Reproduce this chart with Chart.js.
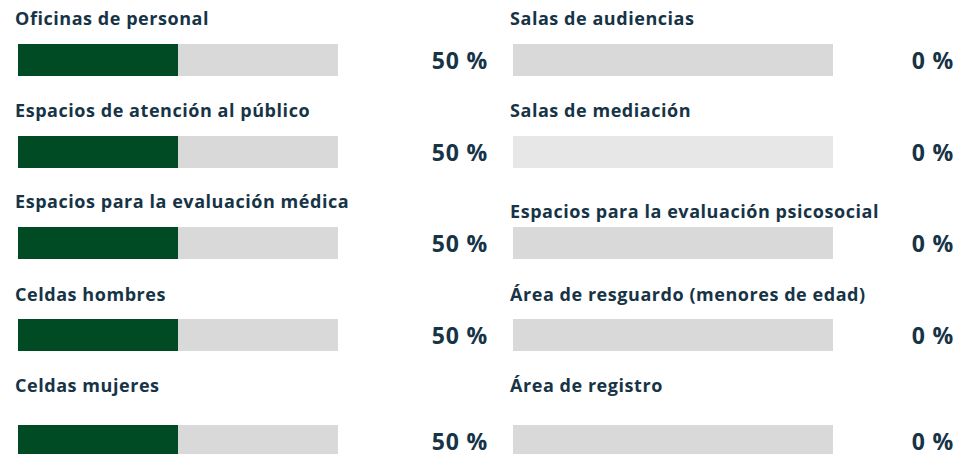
<!DOCTYPE html>
<html>
<head>
<meta charset="utf-8">
<script src="https://cdn.jsdelivr.net/npm/chart.js@4"></script>
<style>
  body { margin: 0; background: #fff; width: 955px; height: 454px; overflow: hidden; position: relative;
         font-family: "Open Sans", sans-serif; color: #163446; }
  .lbl { position: absolute; font-weight: 700; font-size: 18px; line-height: 20px; letter-spacing: 0.55px; white-space: nowrap; }
  .pct { position: absolute; font-weight: 700; font-size: 23px; line-height: 26px; letter-spacing: 0.8px; white-space: nowrap; }
  .bar { position: absolute; }
</style>
</head>
<body>
<script>
// ---------------- DATA ----------------
const leftLabels = [
  "Oficinas de personal",
  "Espacios de atención al público",
  "Espacios para la evaluación médica",
  "Celdas hombres",
  "Celdas mujeres"
];
const leftValues = [50, 50, 50, 50, 50];

const rightLabels = [
  "Salas de audiencias",
  "Salas de mediación",
  "Espacios para la evaluación psicosocial",
  "Área de resguardo (menores de edad)",
  "Área de registro"
];
const rightValues = [0, 0, 0, 0, 0];

// ---------------- LAYOUT ----------------
const barTops = [44, 136, 227, 319, 425];
const leftLabelMid = [18, 110, 201, 294, 385];
const rightLabelMid = [18, 110, 211, 294, 385];
const rightTracks = ["#d9d9d9", "#e7e7e7", "#d9d9d9", "#d9d9d9", "#d9d9d9"];
const FILL = "#004b23";
const BAR_W = 320, BAR_H = 32;

function addText(cls, text, style) {
  const el = document.createElement("div");
  el.className = cls;
  el.textContent = text;
  Object.assign(el.style, style);
  document.body.appendChild(el);
}

function addBar(x, y, value, track) {
  const c = document.createElement("canvas");
  c.className = "bar";
  c.width = BAR_W;
  c.height = BAR_H;
  c.style.left = x + "px";
  c.style.top = y + "px";
  document.body.appendChild(c);

  new Chart(c, {
    type: "bar",
    data: {
      labels: [""],
      datasets: [
        { data: [value], backgroundColor: FILL },
        { data: [100 - value], backgroundColor: track }
      ]
    },
    options: {
      indexAxis: "y",
      responsive: false,
      animation: false,
      events: [],
      layout: { padding: 0 },
      plugins: { legend: { display: false }, tooltip: { enabled: false } },
      datasets: { bar: { barPercentage: 1, categoryPercentage: 1, borderWidth: 0, inflateAmount: 0 } },
      scales: {
        x: { display: false, stacked: true, min: 0, max: 100 },
        y: { display: false, stacked: true }
      }
    }
  });
}

// left column
leftLabels.forEach((name, i) => {
  addText("lbl", name, { left: "15px", top: (leftLabelMid[i] - 10) + "px" });
  addBar(18, barTops[i], leftValues[i], "#d9d9d9");
  addText("pct", leftValues[i] + " %", { right: (955 - 488) + "px", top: (barTops[i] + 16 - 13) + "px" });
});

// right column
rightLabels.forEach((name, i) => {
  addText("lbl", name, { left: "510px", top: (rightLabelMid[i] - 10) + "px" });
  addBar(513, barTops[i], rightValues[i], rightTracks[i]);
  addText("pct", rightValues[i] + " %", { right: (955 - 954) + "px", top: (barTops[i] + 16 - 13) + "px" });
});
</script>
</body>
</html>
